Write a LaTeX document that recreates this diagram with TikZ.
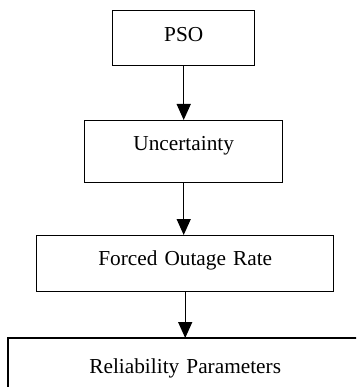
\documentclass[tikz,border=0pt]{standalone}
\usepackage{fontspec}
\setmainfont{Liberation Serif}
\usetikzlibrary{arrows.meta}
\begin{document}
\begin{tikzpicture}[x=1pt,y=-1pt,
  box/.style={draw=black,line width=1.4pt,inner xsep=0pt,inner ysep=0pt,align=center,
    font=\fontsize{21.3}{25}\selectfont,anchor=north west},
  arr/.style={line width=1.4pt,-{Triangle[length=16pt,width=14pt]}}]
\useasboundingbox (0,0) rectangle (356,387);
\clip (0,0) rectangle (356,387);
\node[box,text width=142pt,text height=31pt,text depth=24pt] (pso) at (112,10) {PSO};
\node[box,text width=198pt,text height=30pt,text depth=32pt] (unc) at (84,120) {Uncertainty};
\node[box,text width=297pt,text height=30pt,text depth=26pt] (for) at (36,235) {Forced Outage Rate};
\node[box,draw=none,text width=353pt,text height=35pt,text depth=40pt] (rel) at (8,338) {Reliability Parameters};
\draw[line width=1.4pt] ([xshift=30pt]rel.north east) -- (rel.north west) -- (rel.south west);
\draw[arr] (pso.south) -- (pso.south |- unc.north);
\draw[arr] (unc.south) -- (unc.south |- for.north);
\draw[arr] (for.south) -- (for.south |- rel.north);
\end{tikzpicture}
\end{document}
